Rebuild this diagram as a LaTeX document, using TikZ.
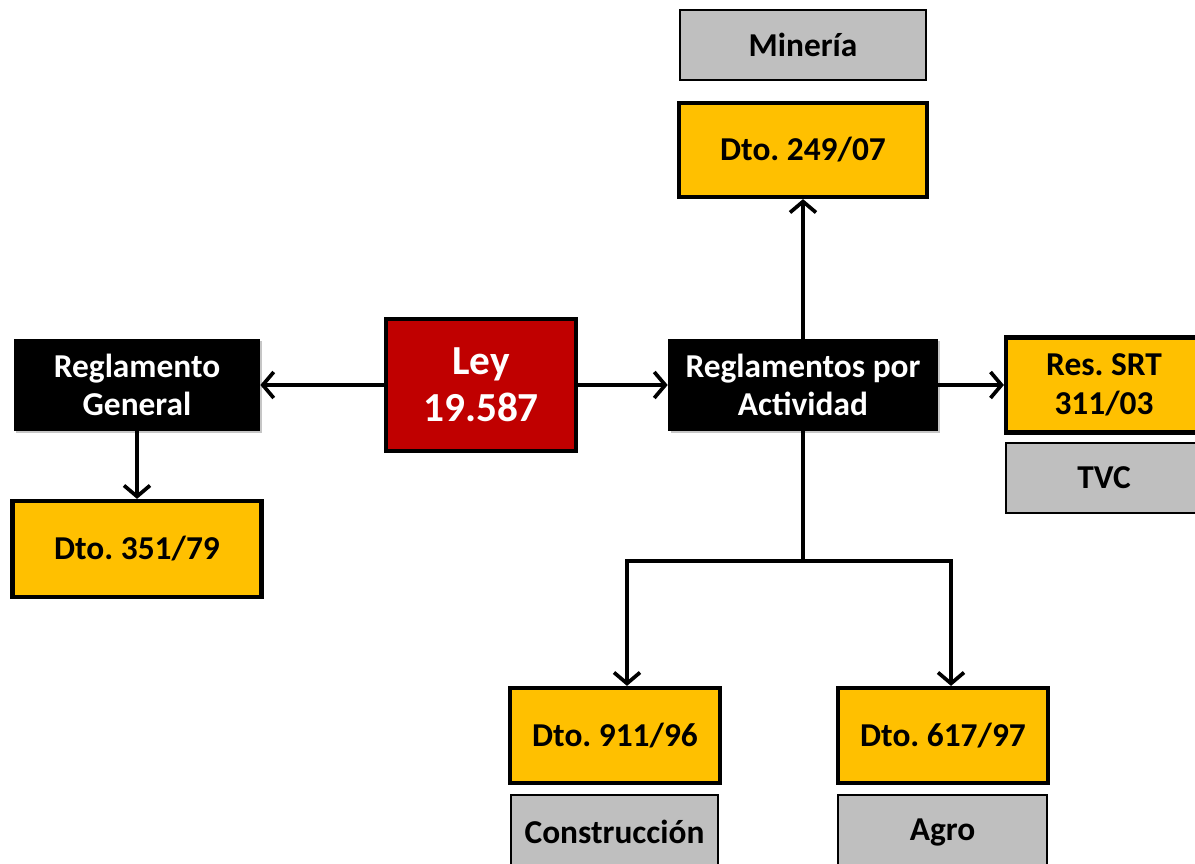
\documentclass[tikz,border=0pt]{standalone}
\usepackage{fontspec}
\setmainfont{Carlito}
\frenchspacing
\usetikzlibrary{arrows.meta,shadows}
\definecolor{oro}{RGB}{255,192,0}
\definecolor{rojoley}{RGB}{192,0,0}
\definecolor{grisrubro}{RGB}{191,191,191}
\tikzset{
  sombra/.style={drop shadow={shadow xshift=1.4pt,shadow yshift=-1.4pt,opacity=.45}},
  norma/.style={draw=black,line width=2.4pt,fill=oro,sombra,inner sep=0pt,align=center,
    font=\fontsize{19}{22.5}\selectfont\bfseries},
  reglam/.style={fill=black,text=white,sombra,inner sep=0pt,align=center,
    font=\fontsize{19}{22}\selectfont\bfseries},
  rubro/.style={draw=black,line width=1.2pt,fill=grisrubro,inner sep=0pt,align=center,
    font=\fontsize{19}{22}\selectfont\bfseries},
  leybox/.style={draw=black,line width=2.4pt,fill=rojoley,text=white,sombra,inner sep=0pt,
    align=center,font=\fontsize{23.5}{27}\selectfont\bfseries},
  flecha/.style={line width=2.1pt,-{Straight Barb[length=2.2mm,width=5.2mm]}}
}
\begin{document}
\begin{tikzpicture}[x=0.02cm,y=-0.02cm]
\useasboundingbox (0,0) rectangle (1195,864);

% ley y reglamentos
\node[leybox,minimum width=3.8cm,minimum height=2.64cm] (ley) at (481,385) {Ley\\19.587};
\node[reglam,minimum width=4.92cm,minimum height=1.84cm] (general) at (137,385) {Reglamento\\General};
\node[reglam,minimum width=5.4cm,minimum height=1.84cm] (actividad) at (803,385) {Reglamentos por\\Actividad};

% decretos y resoluciones
\node[norma,minimum width=4.96cm,minimum height=1.88cm] (d249) at (803,150) {Dto. 249/07};
\node[norma,minimum width=3.92cm,minimum height=1.9cm] (srt) at (1104,385) {Res. SRT\\311/03};
\node[norma,minimum width=4.98cm,minimum height=1.92cm] (d351) at (137,549) {Dto. 351/79};
\node[norma,minimum width=4.2cm,minimum height=1.9cm] (d911) at (615,735.5) {Dto. 911/96};
\node[norma,minimum width=4.2cm,minimum height=1.9cm] (d617) at (943,735.5) {Dto. 617/97};

% rubros
\node[rubro,minimum width=4.92cm,minimum height=1.4cm] (mineria) at (803,45) {Minería};
\node[rubro,minimum width=3.92cm,minimum height=1.4cm] (tvc) at (1104,478) {TVC};
\node[rubro,minimum width=4.14cm,minimum height=1.48cm] (constr) at (614.5,832) {Construcción};
\node[rubro,minimum width=4.18cm,minimum height=1.48cm] (agro) at (942.5,832) {Agro};

% conectores
\draw[flecha] (ley) -- (general);
\draw[flecha] (ley) -- (actividad);
\draw[flecha] (actividad) -- (srt);
\draw[flecha] (actividad) -- (d249);
\draw[flecha] (general) -- (d351);

\coordinate (rama) at (803,561);
\coordinate (izq) at (627,561);
\coordinate (der) at (951,561);
\draw[line width=2.1pt] (actividad) -- (rama);
\draw[flecha] (rama) -- (izq) -- (izq |- d911.north);
\draw[flecha] (rama) -- (der) -- (der |- d617.north);
\end{tikzpicture}
\end{document}
